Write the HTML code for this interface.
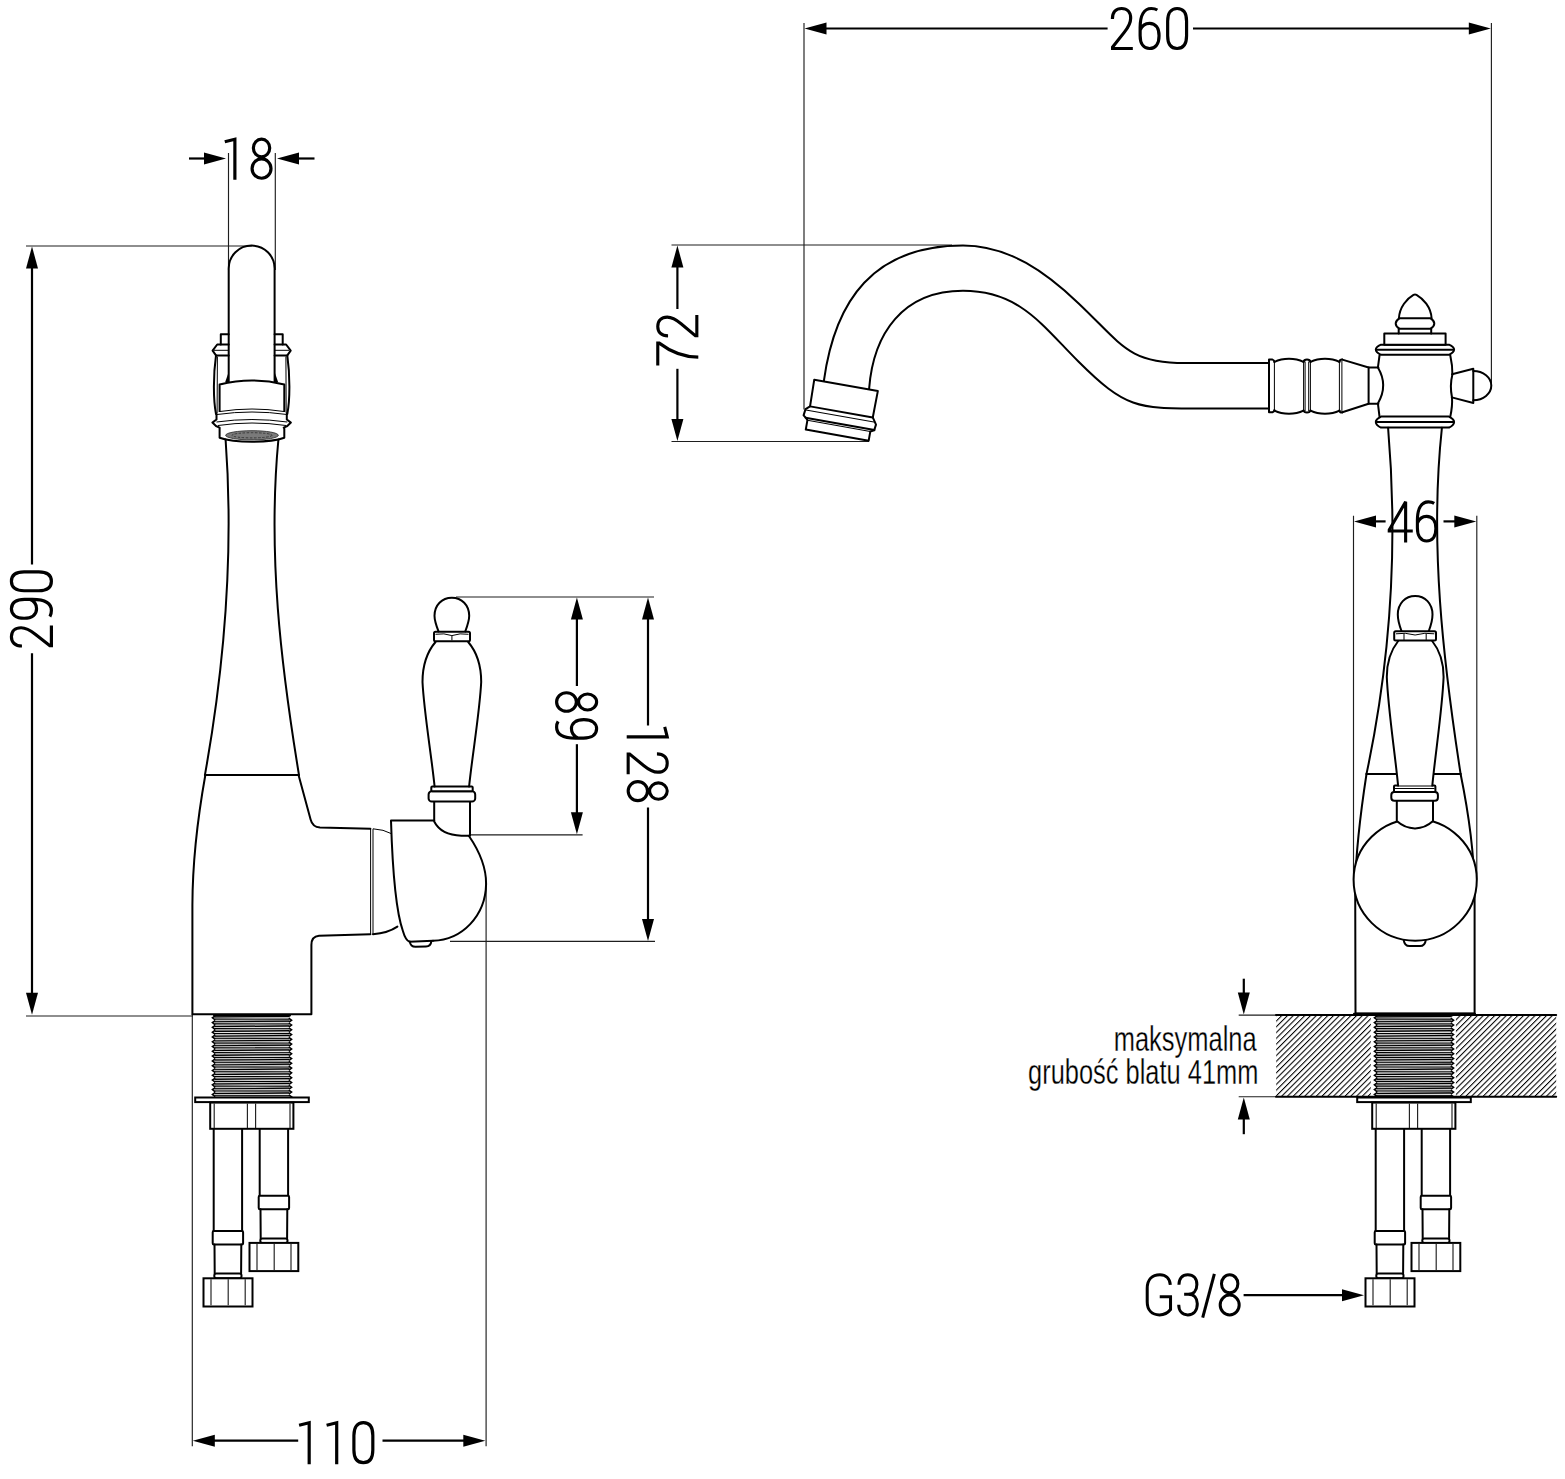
<!DOCTYPE html>
<html><head><meta charset="utf-8"><style>
html,body{margin:0;padding:0;background:#fff;}
svg{display:block;}
.o{fill:none;stroke:#000;stroke-width:2;stroke-linejoin:round;stroke-linecap:round;}
.of{fill:#fff;stroke:#000;stroke-width:2;stroke-linejoin:round;}
.th{fill:none;stroke:#000;stroke-width:1;}
.g{fill:none;stroke:#1e1e1e;stroke-width:1.15;}
.lab{font-family:"Liberation Sans",sans-serif;font-size:100px;fill:#000;stroke:#fff;stroke-width:0.8;}
.gk{fill:none;stroke:#1e1e1e;stroke-width:1.15;}
.d{fill:none;stroke:#000;stroke-width:2.2;}
.ah{fill:#000;stroke:none;}
.t{font-family:"Liberation Sans",sans-serif;fill:#000;stroke:#fff;}
.h{fill:none;stroke:#000;stroke-width:1.3;}
.dg path{fill:none;stroke:#000;stroke-linecap:butt;stroke-linejoin:miter;stroke-miterlimit:3;}
</style></head><body>
<svg width="1565" height="1479" viewBox="0 0 1565 1479">
<rect width="1565" height="1479" fill="#fff"/>

<line class="d" x1="189" y1="158.5" x2="205" y2="158.5"/>
<path class="ah" d="M226,158.5 L204,164.5 L204,152.5 Z"/>
<line class="d" x1="298" y1="158.5" x2="314.5" y2="158.5"/>
<path class="ah" d="M277,158.5 L299,152.5 L299,164.5 Z"/>
<line class="gk" x1="228.5" y1="153" x2="228.5" y2="270"/>
<line class="gk" x1="275.3" y1="153" x2="275.3" y2="270"/>
<g class="dg" stroke-width="7.4" transform="matrix(0.43 0 0 0.42 220.26 137.7)"><path transform="translate(0,0)" d="M34,100 L34,3.5 L10.5,9.5"/><path transform="translate(64,0)" d="M51,24.5 A19,21 0 1 1 13,24.5 A19,21 0 1 1 51,24.5 Z M54,73.5 A22,23 0 1 1 10,73.5 A22,23 0 1 1 54,73.5 Z"/></g>
<line class="g" x1="26" y1="246" x2="252" y2="246"/>
<line class="g" x1="26" y1="1016" x2="193" y2="1016"/>
<line class="d" x1="32" y1="266" x2="32" y2="564.6"/>
<line class="d" x1="32" y1="653.2" x2="32" y2="995"/>
<path class="ah" d="M32,246.5 L38,268.5 L26,268.5 Z"/>
<path class="ah" d="M32,1014.8 L26,992.8 L38,992.8 Z"/>
<g class="dg" stroke-width="7.4" transform="matrix(0 -0.43 0.43 0 9.9 650.08)"><path transform="translate(0,0)" d="M9.5,28 C9.5,12 18,3.5 31,3.5 C44,3.5 52,12 52,26 C52,39 45,49 37,59 L10,93 L10,96.5 L57,96.5"/><path transform="translate(64,0)" d="M 14,93 C 18,95.5 23,96.5 28,96.5 C 45,96.5 54,80 54,52 L 54,34 C 54,14 45.5,3.5 32,3.5 C 18.5,3.5 10,14 10,33 C 10,52 18.5,62 32,62 C 42.5,62 50.5,55 54,46"/><path transform="translate(128,0)" d="M10,33 C10,13.5 18,3.5 32,3.5 C46,3.5 54,13.5 54,33 L54,67 C54,86.5 46,96.5 32,96.5 C18,96.5 10,86.5 10,67 Z"/></g>
<line class="g" x1="456" y1="597" x2="654" y2="597"/>
<line class="g" x1="470" y1="834.8" x2="582.6" y2="834.8"/>
<line class="g" x1="450" y1="941.3" x2="655" y2="941.3"/>
<line class="d" x1="576.9" y1="615" x2="576.9" y2="686"/>
<line class="d" x1="576.9" y1="744.2" x2="576.9" y2="815"/>
<path class="ah" d="M576.9,597.5 L582.9,619.5 L570.9,619.5 Z"/>
<path class="ah" d="M576.9,834.3 L570.9,812.3 L582.9,812.3 Z"/>
<g class="dg" stroke-width="7.4" transform="matrix(0 0.42 -0.43 0 598.1 688.55)"><path transform="translate(0,0)" d="M51,24.5 A19,21 0 1 1 13,24.5 A19,21 0 1 1 51,24.5 Z M54,73.5 A22,23 0 1 1 10,73.5 A22,23 0 1 1 54,73.5 Z"/><path transform="translate(64,0)" d="M 14,93 C 18,95.5 23,96.5 28,96.5 C 45,96.5 54,80 54,52 L 54,34 C 54,14 45.5,3.5 32,3.5 C 18.5,3.5 10,14 10,33 C 10,52 18.5,62 32,62 C 42.5,62 50.5,55 54,46"/></g>
<line class="d" x1="648" y1="615" x2="648" y2="725.5"/>
<line class="d" x1="648" y1="807.5" x2="648" y2="922"/>
<path class="ah" d="M648,597.5 L654,619.5 L642,619.5 Z"/>
<path class="ah" d="M648,941 L642,919 L654,919 Z"/>
<g class="dg" stroke-width="7.4" transform="matrix(0 0.43 -0.42 0 668.7 722.3)"><path transform="translate(0,0)" d="M34,100 L34,3.5 L10.5,9.5"/><path transform="translate(64,0)" d="M9.5,28 C9.5,12 18,3.5 31,3.5 C44,3.5 52,12 52,26 C52,39 45,49 37,59 L10,93 L10,96.5 L57,96.5"/><path transform="translate(128,0)" d="M51,24.5 A19,21 0 1 1 13,24.5 A19,21 0 1 1 51,24.5 Z M54,73.5 A22,23 0 1 1 10,73.5 A22,23 0 1 1 54,73.5 Z"/></g>
<line class="g" x1="486.1" y1="883" x2="486.1" y2="1446.2"/>
<line class="g" x1="192.3" y1="1014" x2="192.3" y2="1446.2"/>
<line class="d" x1="210" y1="1440.7" x2="298.2" y2="1440.7"/>
<line class="d" x1="382.5" y1="1440.7" x2="468" y2="1440.7"/>
<path class="ah" d="M192.8,1440.7 L214.8,1434.7 L214.8,1446.7 Z"/>
<path class="ah" d="M485.3,1440.7 L463.3,1446.7 L463.3,1434.7 Z"/>
<g class="dg" stroke-width="7.4" transform="matrix(0.43 0 0 0.43 294.56 1421.2)"><path transform="translate(0,0)" d="M34,100 L34,3.5 L10.5,9.5"/><path transform="translate(64,0)" d="M34,100 L34,3.5 L10.5,9.5"/><path transform="translate(128,0)" d="M10,33 C10,13.5 18,3.5 32,3.5 C46,3.5 54,13.5 54,33 L54,67 C54,86.5 46,96.5 32,96.5 C18,96.5 10,86.5 10,67 Z"/></g>
<line class="g" x1="804" y1="23" x2="804" y2="409.5"/>
<line class="g" x1="1491.4" y1="23" x2="1491.4" y2="385.5"/>
<line class="d" x1="822" y1="28.5" x2="1107.6" y2="28.5"/>
<line class="d" x1="1193" y1="28.5" x2="1472" y2="28.5"/>
<path class="ah" d="M804.5,28.5 L826.5,22.5 L826.5,34.5 Z"/>
<path class="ah" d="M1490.8,28.5 L1468.8,34.5 L1468.8,22.5 Z"/>
<g class="dg" stroke-width="7.4" transform="matrix(0.43 0 0 0.43 1108.31 7)"><path transform="translate(0,0)" d="M9.5,28 C9.5,12 18,3.5 31,3.5 C44,3.5 52,12 52,26 C52,39 45,49 37,59 L10,93 L10,96.5 L57,96.5"/><path transform="translate(64,0)" d="M50,7 C46,4.5 41,3.5 36,3.5 C19,3.5 10,20 10,48 L10,66 C10,86 18.5,96.5 32,96.5 C45.5,96.5 54,86 54,67 C54,48 45.5,38 32,38 C21.5,38 13.5,45 10,54"/><path transform="translate(128,0)" d="M10,33 C10,13.5 18,3.5 32,3.5 C46,3.5 54,13.5 54,33 L54,67 C54,86.5 46,96.5 32,96.5 C18,96.5 10,86.5 10,67 Z"/></g>
<line class="g" x1="671.5" y1="245" x2="952" y2="245"/>
<line class="g" x1="671.5" y1="441.5" x2="869" y2="441.5"/>
<line class="d" x1="677.4" y1="262" x2="677.4" y2="309"/>
<line class="d" x1="677.4" y1="368.8" x2="677.4" y2="424"/>
<path class="ah" d="M677.4,245.5 L683.4,267.5 L671.4,267.5 Z"/>
<path class="ah" d="M677.4,441 L671.4,419 L683.4,419 Z"/>
<g class="dg" stroke-width="7.4" transform="matrix(0 -0.44 0.42 0 656.3 368.24)"><path transform="translate(0,0)" d="M6,3.5 L57,3.5 L57,7 C41,29 25.5,62 25,100"/><path transform="translate(64,0)" d="M9.5,28 C9.5,12 18,3.5 31,3.5 C44,3.5 52,12 52,26 C52,39 45,49 37,59 L10,93 L10,96.5 L57,96.5"/></g>
<line class="gk" x1="1353.5" y1="515.7" x2="1353.5" y2="879.5"/>
<line class="gk" x1="1476.8" y1="515.7" x2="1476.8" y2="879.5"/>
<line class="d" x1="1372" y1="521.4" x2="1385.6" y2="521.4"/>
<line class="d" x1="1443.5" y1="521.4" x2="1458" y2="521.4"/>
<path class="ah" d="M1354,521.4 L1376,515.4 L1376,527.4 Z"/>
<path class="ah" d="M1476.3,521.4 L1454.3,527.4 L1454.3,515.4 Z"/>
<line class="d" x1="1243.8" y1="978.7" x2="1243.8" y2="995"/>
<path class="ah" d="M1243.8,1014.6 L1237.8,992.6 L1249.8,992.6 Z"/>
<line class="d" x1="1243.8" y1="1115" x2="1243.8" y2="1134.2"/>
<path class="ah" d="M1243.8,1097.4 L1249.8,1119.4 L1237.8,1119.4 Z"/>
<line class="gk" x1="1238.7" y1="1015.1" x2="1276" y2="1015.1"/>
<line class="gk" x1="1238.7" y1="1096.7" x2="1276" y2="1096.7"/>
<line class="d" x1="1243.6" y1="1295.2" x2="1345" y2="1295.2"/>
<path class="ah" d="M1364,1295.2 L1342,1301.2 L1342,1289.2 Z"/>
<g class="dg" stroke-width="7" transform="matrix(0.4318 0 0 0.432 1145.7 1273.2)"><path d="M57,27 C56,12 46,3.5 33,3.5 C15,3.5 3.5,15 3.5,35 L3.5,66 C3.5,86 15,96.5 32,96.5 C44,96.5 52,91 57.5,84 L57.5,54.5 L32.5,54.5"/><path transform="translate(72.5,0)" d="M4.5,27 C4.5,12.5 12,3.5 25,3.5 C38,3.5 46,12.5 46,26 C46,40 38,48.8 26,48.8 L16.5,48.8 M26,48.8 C40,48.8 47,58 47,71 C47,87 38,96.5 25,96.5 C12,96.5 4,87 4,73"/><path d="M159,1.5 L132,103"/><path transform="translate(162.5,0)" d="M51,24.5 A19,21 0 1 1 13,24.5 A19,21 0 1 1 51,24.5 Z M54,73.5 A22,23 0 1 1 10,73.5 A22,23 0 1 1 54,73.5 Z"/></g>
<g class="dg" stroke-width="7.4" transform="matrix(0.42 0 0 0.42 1386.31 500.4)"><path transform="translate(0,0)" d="M46,100 L46,3.5 L7,70 L7,73 L63,73"/><path transform="translate(64,0)" d="M50,7 C46,4.5 41,3.5 36,3.5 C19,3.5 10,20 10,48 L10,66 C10,86 18.5,96.5 32,96.5 C45.5,96.5 54,86 54,67 C54,48 45.5,38 32,38 C21.5,38 13.5,45 10,54"/></g>
<path class="o" d="M228.7,383 L228.7,268.5 A22.95,22.95 0 0 1 274.6,268.5 L274.6,383"/>
<path class="o" d="M228.7,334.2 L220.8,334.2 L220.8,344.5"/>
<path class="o" d="M274.6,334.2 L282.7,334.2 L282.7,344.5"/>
<path class="o" d="M228.7,344.5 L217.2,344.5 L212.6,350.6 L216,355.4 L228.7,355.4"/>
<line class="th" x1="214" y1="350.3" x2="228.7" y2="350.3"/>
<path class="o" d="M274.6,344.5 L286.1,344.5 L290.7,350.6 L287.3,355.4 L274.6,355.4"/>
<line class="th" x1="274.6" y1="350.3" x2="289.3" y2="350.3"/>
<path class="o" d="M216,355.5 C213.2,375 213.2,400 216,414"/>
<path class="o" d="M287.3,355.5 C290.1,375 290.1,400 287.3,414"/>
<path class="th" d="M217.4,356.5 L217.1,413"/>
<path class="th" d="M285.9,356.5 L286.2,413"/>
<path class="ah" d="M225.2,382 L228.7,372 L228.7,382 Z"/>
<path class="ah" d="M278.1,382 L274.6,372 L274.6,382 Z"/>
<path class="of" d="M219.6,412 L219.6,384.5 Q252,376.5 284.3,384.5 L284.3,412"/>
<path class="th" d="M220,411.5 Q252,406.5 284,411.5"/>
<path class="th" d="M217,414.5 Q252,409.5 287,414.5"/>
<path class="o" d="M216.5,413.5 L216.5,419.5 L212.4,422.6 L216,426 L219.6,427.6"/>
<path class="o" d="M286.8,413.5 L286.8,419.5 L290.9,422.6 L287.3,426 L283.7,427.6"/>
<path class="th" d="M216.5,422 Q252,417 287.3,422"/>
<path class="th" d="M218,425.5 Q252,420.5 286,425.5"/>
<path class="o" d="M219.6,428.5 L219.6,437.8 C230,441.5 240,441.8 252,441.8 C264,441.8 274,441.5 284.3,437.8 L284.3,428.5"/>
<ellipse cx="252" cy="435.3" rx="26.3" ry="4.6" fill="#7a7a7a" stroke="#333" stroke-width="0.9"/>
<ellipse cx="252" cy="435.3" rx="20" ry="2.6" fill="none" stroke="#333" stroke-width="0.9" stroke-dasharray="2.5 1.5"/>
<path class="o" d="M225.6,439.5 C234,553.7 224.7,664.7 204.9,775.1"/>
<path class="o" d="M278.4,439.5 C267.6,554 280.8,664 299,775.1"/>
<line class="o" x1="205.3" y1="775.1" x2="298.6" y2="775.1"/>
<path class="o" d="M205.3,775.2 C197.3,820 192.5,865 192.4,905 L192.4,1014.2 L311.4,1014.2 L311.4,945 Q311.4,936.5 319,935.8 L370.4,934.2"/>
<path class="o" d="M298.6,775.2 L310.6,819.5 Q312.5,827 320,827.6 L370.4,828.8"/>
<line class="th" x1="370.6" y1="828.8" x2="370.6" y2="934.2"/>
<line class="th" x1="373" y1="828.8" x2="373" y2="934.2"/>
<path class="th" d="M373,828.8 Q384,829.5 391,833.5"/>
<path class="o" d="M373,934.2 Q388,933 397.4,926.6"/>
<path class="o" d="M434.2,820.6 L391,820.6 C392.5,870 395.5,910 402.9,931 Q405.5,940 409.3,941.7 L433,940.7"/>
<path class="o" d="M468.8,835.7 C480,852 486.3,868 486.1,884 C485.5,916 462,940 433,940.7"/>
<path class="o" d="M409.8,941.6 C410.3,945.5 412.5,946.8 415.5,946.8 L426,946.6 C429,946.5 431,945 431.4,940.9"/>
<path class="o" d="M434.2,802 L434.2,821.5 Q441,835 461.5,835.7 L468.8,835.7 L470,835.7 L470,802"/>
<rect class="of" x="428.6" y="791.3" width="46.6" height="10.3" rx="3.2"/>
<rect class="of" x="431.3" y="786.4" width="41.4" height="4.9" rx="1"/>
<path class="o" d="M435.5,642 C427,652 422.5,665 422.5,682 C424,712 431,752 434.6,786.5"/>
<path class="o" d="M468.2,642 C476.7,652 481.2,665 481.2,682 C479.7,712 472.7,752 469.1,786.5"/>
<rect class="of" x="434" y="631.8" width="36" height="9.4" rx="1.5"/>
<path class="th" d="M435.5,634.3 Q444,632.8 451.9,635.6 Q460,632.8 468.5,634.3"/>
<line class="g" x1="451.9" y1="635.6" x2="451.9" y2="640.5"/>
<path class="o" d="M438.5,631.4 C436,625 434.5,620.5 434.5,615.8 C434.5,605 442,597.7 451.85,597.7 C461.7,597.7 469.2,605 469.2,615.8 C469.2,620.5 467.7,625 465.3,631.4"/>
<g id="bot">
<rect x="214.5" y="1015.5" width="75" height="81" fill="#8a8a8a"/><path d="M214.5,1017.1 L289.5,1016.3" stroke="#000" stroke-width="1.25" fill="none"/><path d="M214.5,1018.2 L289.5,1017.9" stroke="#f2f2f2" stroke-width="0.9" fill="none"/><path d="M214.5,1019.1 L289.5,1019.3" stroke="#000" stroke-width="1.15" fill="none"/><path d="M214.5,1020.3 L289.5,1020.2" stroke="#d8d8d8" stroke-width="0.8" fill="none"/><path d="M215.2,1015.8 L212.4,1017.8 L215.2,1020" stroke="#000" stroke-width="1.5" fill="none"/><path d="M288.8,1018.2 L291.6,1020.2 L288.8,1022.4" stroke="#000" stroke-width="1.5" fill="none"/><path d="M214.5,1021.89 L289.5,1021.09" stroke="#000" stroke-width="1.25" fill="none"/><path d="M214.5,1022.99 L289.5,1022.69" stroke="#f2f2f2" stroke-width="0.9" fill="none"/><path d="M214.5,1023.89 L289.5,1024.09" stroke="#000" stroke-width="1.15" fill="none"/><path d="M214.5,1025.09 L289.5,1024.99" stroke="#d8d8d8" stroke-width="0.8" fill="none"/><path d="M215.2,1020.59 L212.4,1022.59 L215.2,1024.79" stroke="#000" stroke-width="1.5" fill="none"/><path d="M288.8,1022.99 L291.6,1024.99 L288.8,1027.19" stroke="#000" stroke-width="1.5" fill="none"/><path d="M214.5,1026.68 L289.5,1025.88" stroke="#000" stroke-width="1.25" fill="none"/><path d="M214.5,1027.78 L289.5,1027.48" stroke="#f2f2f2" stroke-width="0.9" fill="none"/><path d="M214.5,1028.68 L289.5,1028.88" stroke="#000" stroke-width="1.15" fill="none"/><path d="M214.5,1029.88 L289.5,1029.78" stroke="#d8d8d8" stroke-width="0.8" fill="none"/><path d="M215.2,1025.38 L212.4,1027.38 L215.2,1029.58" stroke="#000" stroke-width="1.5" fill="none"/><path d="M288.8,1027.78 L291.6,1029.78 L288.8,1031.98" stroke="#000" stroke-width="1.5" fill="none"/><path d="M214.5,1031.47 L289.5,1030.67" stroke="#000" stroke-width="1.25" fill="none"/><path d="M214.5,1032.57 L289.5,1032.27" stroke="#f2f2f2" stroke-width="0.9" fill="none"/><path d="M214.5,1033.47 L289.5,1033.67" stroke="#000" stroke-width="1.15" fill="none"/><path d="M214.5,1034.67 L289.5,1034.57" stroke="#d8d8d8" stroke-width="0.8" fill="none"/><path d="M215.2,1030.17 L212.4,1032.17 L215.2,1034.37" stroke="#000" stroke-width="1.5" fill="none"/><path d="M288.8,1032.57 L291.6,1034.57 L288.8,1036.77" stroke="#000" stroke-width="1.5" fill="none"/><path d="M214.5,1036.26 L289.5,1035.46" stroke="#000" stroke-width="1.25" fill="none"/><path d="M214.5,1037.36 L289.5,1037.06" stroke="#f2f2f2" stroke-width="0.9" fill="none"/><path d="M214.5,1038.26 L289.5,1038.46" stroke="#000" stroke-width="1.15" fill="none"/><path d="M214.5,1039.46 L289.5,1039.36" stroke="#d8d8d8" stroke-width="0.8" fill="none"/><path d="M215.2,1034.96 L212.4,1036.96 L215.2,1039.16" stroke="#000" stroke-width="1.5" fill="none"/><path d="M288.8,1037.36 L291.6,1039.36 L288.8,1041.56" stroke="#000" stroke-width="1.5" fill="none"/><path d="M214.5,1041.05 L289.5,1040.25" stroke="#000" stroke-width="1.25" fill="none"/><path d="M214.5,1042.15 L289.5,1041.85" stroke="#f2f2f2" stroke-width="0.9" fill="none"/><path d="M214.5,1043.05 L289.5,1043.25" stroke="#000" stroke-width="1.15" fill="none"/><path d="M214.5,1044.25 L289.5,1044.15" stroke="#d8d8d8" stroke-width="0.8" fill="none"/><path d="M215.2,1039.75 L212.4,1041.75 L215.2,1043.95" stroke="#000" stroke-width="1.5" fill="none"/><path d="M288.8,1042.15 L291.6,1044.15 L288.8,1046.35" stroke="#000" stroke-width="1.5" fill="none"/><path d="M214.5,1045.84 L289.5,1045.04" stroke="#000" stroke-width="1.25" fill="none"/><path d="M214.5,1046.94 L289.5,1046.64" stroke="#f2f2f2" stroke-width="0.9" fill="none"/><path d="M214.5,1047.84 L289.5,1048.04" stroke="#000" stroke-width="1.15" fill="none"/><path d="M214.5,1049.04 L289.5,1048.94" stroke="#d8d8d8" stroke-width="0.8" fill="none"/><path d="M215.2,1044.54 L212.4,1046.54 L215.2,1048.74" stroke="#000" stroke-width="1.5" fill="none"/><path d="M288.8,1046.94 L291.6,1048.94 L288.8,1051.14" stroke="#000" stroke-width="1.5" fill="none"/><path d="M214.5,1050.63 L289.5,1049.83" stroke="#000" stroke-width="1.25" fill="none"/><path d="M214.5,1051.73 L289.5,1051.43" stroke="#f2f2f2" stroke-width="0.9" fill="none"/><path d="M214.5,1052.63 L289.5,1052.83" stroke="#000" stroke-width="1.15" fill="none"/><path d="M214.5,1053.83 L289.5,1053.73" stroke="#d8d8d8" stroke-width="0.8" fill="none"/><path d="M215.2,1049.33 L212.4,1051.33 L215.2,1053.53" stroke="#000" stroke-width="1.5" fill="none"/><path d="M288.8,1051.73 L291.6,1053.73 L288.8,1055.93" stroke="#000" stroke-width="1.5" fill="none"/><path d="M214.5,1055.42 L289.5,1054.62" stroke="#000" stroke-width="1.25" fill="none"/><path d="M214.5,1056.52 L289.5,1056.22" stroke="#f2f2f2" stroke-width="0.9" fill="none"/><path d="M214.5,1057.42 L289.5,1057.62" stroke="#000" stroke-width="1.15" fill="none"/><path d="M214.5,1058.62 L289.5,1058.52" stroke="#d8d8d8" stroke-width="0.8" fill="none"/><path d="M215.2,1054.12 L212.4,1056.12 L215.2,1058.32" stroke="#000" stroke-width="1.5" fill="none"/><path d="M288.8,1056.52 L291.6,1058.52 L288.8,1060.72" stroke="#000" stroke-width="1.5" fill="none"/><path d="M214.5,1060.21 L289.5,1059.41" stroke="#000" stroke-width="1.25" fill="none"/><path d="M214.5,1061.31 L289.5,1061.01" stroke="#f2f2f2" stroke-width="0.9" fill="none"/><path d="M214.5,1062.21 L289.5,1062.41" stroke="#000" stroke-width="1.15" fill="none"/><path d="M214.5,1063.41 L289.5,1063.31" stroke="#d8d8d8" stroke-width="0.8" fill="none"/><path d="M215.2,1058.91 L212.4,1060.91 L215.2,1063.11" stroke="#000" stroke-width="1.5" fill="none"/><path d="M288.8,1061.31 L291.6,1063.31 L288.8,1065.51" stroke="#000" stroke-width="1.5" fill="none"/><path d="M214.5,1065 L289.5,1064.2" stroke="#000" stroke-width="1.25" fill="none"/><path d="M214.5,1066.1 L289.5,1065.8" stroke="#f2f2f2" stroke-width="0.9" fill="none"/><path d="M214.5,1067 L289.5,1067.2" stroke="#000" stroke-width="1.15" fill="none"/><path d="M214.5,1068.2 L289.5,1068.1" stroke="#d8d8d8" stroke-width="0.8" fill="none"/><path d="M215.2,1063.7 L212.4,1065.7 L215.2,1067.9" stroke="#000" stroke-width="1.5" fill="none"/><path d="M288.8,1066.1 L291.6,1068.1 L288.8,1070.3" stroke="#000" stroke-width="1.5" fill="none"/><path d="M214.5,1069.79 L289.5,1068.99" stroke="#000" stroke-width="1.25" fill="none"/><path d="M214.5,1070.89 L289.5,1070.59" stroke="#f2f2f2" stroke-width="0.9" fill="none"/><path d="M214.5,1071.79 L289.5,1071.99" stroke="#000" stroke-width="1.15" fill="none"/><path d="M214.5,1072.99 L289.5,1072.89" stroke="#d8d8d8" stroke-width="0.8" fill="none"/><path d="M215.2,1068.49 L212.4,1070.49 L215.2,1072.69" stroke="#000" stroke-width="1.5" fill="none"/><path d="M288.8,1070.89 L291.6,1072.89 L288.8,1075.09" stroke="#000" stroke-width="1.5" fill="none"/><path d="M214.5,1074.58 L289.5,1073.78" stroke="#000" stroke-width="1.25" fill="none"/><path d="M214.5,1075.68 L289.5,1075.38" stroke="#f2f2f2" stroke-width="0.9" fill="none"/><path d="M214.5,1076.58 L289.5,1076.78" stroke="#000" stroke-width="1.15" fill="none"/><path d="M214.5,1077.78 L289.5,1077.68" stroke="#d8d8d8" stroke-width="0.8" fill="none"/><path d="M215.2,1073.28 L212.4,1075.28 L215.2,1077.48" stroke="#000" stroke-width="1.5" fill="none"/><path d="M288.8,1075.68 L291.6,1077.68 L288.8,1079.88" stroke="#000" stroke-width="1.5" fill="none"/><path d="M214.5,1079.37 L289.5,1078.57" stroke="#000" stroke-width="1.25" fill="none"/><path d="M214.5,1080.47 L289.5,1080.17" stroke="#f2f2f2" stroke-width="0.9" fill="none"/><path d="M214.5,1081.37 L289.5,1081.57" stroke="#000" stroke-width="1.15" fill="none"/><path d="M214.5,1082.57 L289.5,1082.47" stroke="#d8d8d8" stroke-width="0.8" fill="none"/><path d="M215.2,1078.07 L212.4,1080.07 L215.2,1082.27" stroke="#000" stroke-width="1.5" fill="none"/><path d="M288.8,1080.47 L291.6,1082.47 L288.8,1084.67" stroke="#000" stroke-width="1.5" fill="none"/><path d="M214.5,1084.16 L289.5,1083.36" stroke="#000" stroke-width="1.25" fill="none"/><path d="M214.5,1085.26 L289.5,1084.96" stroke="#f2f2f2" stroke-width="0.9" fill="none"/><path d="M214.5,1086.16 L289.5,1086.36" stroke="#000" stroke-width="1.15" fill="none"/><path d="M214.5,1087.36 L289.5,1087.26" stroke="#d8d8d8" stroke-width="0.8" fill="none"/><path d="M215.2,1082.86 L212.4,1084.86 L215.2,1087.06" stroke="#000" stroke-width="1.5" fill="none"/><path d="M288.8,1085.26 L291.6,1087.26 L288.8,1089.46" stroke="#000" stroke-width="1.5" fill="none"/><path d="M214.5,1088.95 L289.5,1088.15" stroke="#000" stroke-width="1.25" fill="none"/><path d="M214.5,1090.05 L289.5,1089.75" stroke="#f2f2f2" stroke-width="0.9" fill="none"/><path d="M214.5,1090.95 L289.5,1091.15" stroke="#000" stroke-width="1.15" fill="none"/><path d="M214.5,1092.15 L289.5,1092.05" stroke="#d8d8d8" stroke-width="0.8" fill="none"/><path d="M215.2,1087.65 L212.4,1089.65 L215.2,1091.85" stroke="#000" stroke-width="1.5" fill="none"/><path d="M288.8,1090.05 L291.6,1092.05 L288.8,1094.25" stroke="#000" stroke-width="1.5" fill="none"/><path d="M214.5,1093.74 L289.5,1092.94" stroke="#000" stroke-width="1.25" fill="none"/><path d="M214.5,1094.84 L289.5,1094.54" stroke="#f2f2f2" stroke-width="0.9" fill="none"/><path d="M214.5,1095.74 L289.5,1095.94" stroke="#000" stroke-width="1.15" fill="none"/><path d="M214.5,1096.94 L289.5,1096.84" stroke="#d8d8d8" stroke-width="0.8" fill="none"/><path d="M215.2,1092.44 L212.4,1094.44 L215.2,1096.64" stroke="#000" stroke-width="1.5" fill="none"/><path d="M288.8,1094.84 L291.6,1096.84 L288.8,1099.04" stroke="#000" stroke-width="1.5" fill="none"/>
<line class="o" x1="214" y1="1015.5" x2="290" y2="1015.5"/>
<rect x="195.2" y="1097.5" width="113.6" height="4.6" fill="#fff" stroke="#000" stroke-width="2"/>
<rect x="210.2" y="1102.6" width="83.2" height="26.2" fill="#fff" stroke="#000" stroke-width="2"/>
<line class="g" x1="214.2" y1="1103.5" x2="214.2" y2="1128"/>
<line class="g" x1="247.4" y1="1103.5" x2="247.4" y2="1128"/>
<line class="g" x1="255.6" y1="1103.5" x2="255.6" y2="1128"/>
<line class="g" x1="290" y1="1103.5" x2="290" y2="1128"/>
<line class="o" x1="213.7" y1="1129" x2="213.7" y2="1231"/>
<line class="o" x1="242.1" y1="1129" x2="242.1" y2="1231"/>
<rect class="of" x="212.7" y="1231" width="30.4" height="13.5" rx="1.2"/>
<path class="o" d="M214.5,1244.5 L214.7,1273.6 M241.3,1244.5 L241.1,1273.6"/>
<rect class="of" x="214.3" y="1273.6" width="27.2" height="4.7" rx="2"/>
<rect x="203.5" y="1278.3" width="49" height="28.2" fill="#fff" stroke="#000" stroke-width="2"/>
<line class="g" x1="211" y1="1279.3" x2="211" y2="1305.3"/>
<line class="g" x1="228.2" y1="1279.3" x2="228.2" y2="1305.3"/>
<line class="g" x1="245.2" y1="1279.3" x2="245.2" y2="1305.3"/>
<line class="o" x1="259.7" y1="1129" x2="259.7" y2="1195.8"/>
<line class="o" x1="288.1" y1="1129" x2="288.1" y2="1195.8"/>
<rect class="of" x="258.7" y="1195.8" width="30.4" height="13.5" rx="1.2"/>
<path class="o" d="M260.5,1209.3 L260.7,1238.4 M287.3,1209.3 L287.1,1238.4"/>
<rect class="of" x="260.3" y="1238.4" width="27.2" height="4.5" rx="2"/>
<rect x="249.5" y="1242.9" width="48.8" height="28.2" fill="#fff" stroke="#000" stroke-width="2"/>
<line class="g" x1="257" y1="1243.9" x2="257" y2="1269.9"/>
<line class="g" x1="274.2" y1="1243.9" x2="274.2" y2="1269.9"/>
<line class="g" x1="291" y1="1243.9" x2="291" y2="1269.9"/>
</g>
<use href="#bot" transform="translate(1162,0)"/>
<path class="o" d="M823.8,381.3 C835,299.6 874,245.5 963,245.5 C1009.4,245.5 1046.4,272.9 1078.4,303.2 C1122.8,345.3 1128.1,363 1185,363 L1269,363"/>
<path class="o" d="M869.1,388.9 C873.3,333.7 902.7,290.8 963,290.8 C1019.6,290.8 1041.8,325 1078.4,361.5 C1125.2,408.1 1136.8,408.6 1200,408.6 L1269,408.6"/>
<g transform="translate(814.25,379.7) rotate(10)">
<path class="of" d="M0,0 L64.6,0 L64.2,27 L0.5,27 Z"/>
<path class="o" d="M0.5,27 L-3.5,30.5 L-4.3,37 L-1,39.5 L0.3,41.2 L0.3,50.6 L64.2,50.6 L64.2,41.2 L67.8,39.5 L68.6,33.5 L64.2,27"/>
<line class="th" x1="-3" y1="31.2" x2="67.5" y2="31.2"/>
<line class="o" x1="-2" y1="39" x2="68" y2="39"/>
<line class="th" x1="0.3" y1="41.2" x2="64.2" y2="41.2"/>
</g>
<path class="o" d="M1269,363 L1269,359.6 L1272.5,359.6 Q1274.4,360.2 1274.4,362"/>
<path class="o" d="M1269,363 L1269,412.3 L1272.5,412.3 Q1274.4,411.7 1274.4,410"/>
<line class="th" x1="1274.4" y1="361" x2="1274.4" y2="411"/>
<path class="o" d="M1274.4,361.8 C1283,357.6 1295,357.6 1303.5,361.8"/>
<path class="o" d="M1274.4,410.6 C1283,414.8 1295,414.8 1303.5,410.6"/>
<path class="o" d="M1303.5,362 Q1304,359.6 1307,359.6 Q1310,359.6 1310.5,362"/>
<path class="o" d="M1303.5,410.4 Q1304,412.6 1307,412.6 Q1310,412.6 1310.5,410.4"/>
<line class="th" x1="1303.6" y1="361.5" x2="1303.6" y2="411"/>
<line class="th" x1="1305.1" y1="361.5" x2="1305.1" y2="411"/>
<line class="th" x1="1308.7" y1="361.5" x2="1308.7" y2="411"/>
<line class="th" x1="1310.4" y1="361.5" x2="1310.4" y2="411"/>
<path class="o" d="M1310.5,361.8 C1319,357.6 1331,357.6 1339.5,361.8"/>
<path class="o" d="M1310.5,410.6 C1319,414.8 1331,414.8 1339.5,410.6"/>
<path class="o" d="M1339.3,362 Q1339.8,359.6 1342,359.6 L1342.3,359.6"/>
<path class="o" d="M1339.3,410.4 Q1339.8,412.5 1342,412.5 L1342.3,412.5"/>
<line class="th" x1="1339.4" y1="361.5" x2="1339.4" y2="411"/>
<line class="th" x1="1341.9" y1="361" x2="1341.9" y2="411.5"/>
<path class="o" d="M1342.3,359.6 L1368.6,367.5 L1368.6,403.8 L1342.3,412.3"/>
<path class="o" d="M1368.6,367.5 L1378.4,367.5 M1368.6,403.8 L1378.4,403.8"/>
<path class="o" d="M1379.5,355.5 L1377.9,367.6 Q1388.5,385.5 1377.9,403.4 L1379.5,416.6"/>
<path class="o" d="M1450.3,355.5 Q1452.6,366 1452.4,374.5 Q1449.6,385.5 1452,397.5 Q1452.6,406 1450.3,416.6"/>
<path class="of" d="M1381,344.7 L1449,344.7 Q1454.1,347 1454.1,349.6 Q1454.1,352.5 1449,354.8 L1381,354.8 Q1375.8,352.5 1375.8,349.6 Q1375.8,347 1381,344.7 Z"/>
<line class="o" x1="1377" y1="349.8" x2="1453" y2="349.8"/>
<rect class="of" x="1384.3" y="333.5" width="61.3" height="11.2"/>
<path class="o" d="M1398.7,333.5 L1398.7,328.7 M1431.2,333.5 L1431.2,328.7"/>
<path class="of" d="M1399.5,318.3 L1430.5,318.3 Q1434.3,320.5 1434.3,323.5 Q1434.3,326.5 1430.5,328.7 L1399.5,328.7 Q1395.7,326.5 1395.7,323.5 Q1395.7,320.5 1399.5,318.3 Z"/>
<path class="o" d="M1398.9,318.3 C1399.5,307 1407,298.5 1413.5,294.8 Q1415,294 1416.5,294.8 C1423,298.5 1431,307 1431.6,318.3"/>
<path class="of" d="M1381,416.6 L1449,416.6 Q1454.1,419.3 1454.1,421.9 Q1454.1,425 1449,427.6 L1381,427.6 Q1375.8,425 1375.8,421.9 Q1375.8,419.3 1381,416.6 Z"/>
<line class="o" x1="1377" y1="421.9" x2="1453" y2="421.9"/>
<path class="o" d="M1452,374.2 L1473.3,368.7 L1473.3,403 L1451.8,397.4"/>
<path class="o" d="M1473.3,371 A18,14.6 0 0 1 1473.3,400.2"/>
<path class="o" d="M1388.1,427.8 C1398,543.5 1390.7,660.3 1366.5,773.9"/>
<path class="o" d="M1441.9,427.8 C1429.5,543.4 1443,659.6 1460.6,773.9"/>
<line class="o" x1="1366.5" y1="773.9" x2="1460.6" y2="773.9"/>
<path class="o" d="M1366.5,774 C1360.2,815 1356,850 1355.2,885 L1355.5,1013.6 L1474.6,1013.6 L1474.6,890 C1474,850 1469,815 1460.6,774"/>
<line class="o" x1="1354" y1="1013.8" x2="1475" y2="1013.8"/>
<ellipse class="of" cx="1415.2" cy="879.8" rx="61.6" ry="60.9"/>
<path class="o" d="M1403.8,940.3 C1404.3,944.5 1406.5,946 1409.5,946 L1420,946 C1423,946 1425.2,944.5 1425.7,940.3"/>
<path class="of" d="M1396.8,800.7 L1396.8,821.1 Q1405,828.5 1415,828.4 Q1425,828.5 1433,821.1 L1433,800.7"/>
<rect class="of" x="1391.3" y="792" width="46.6" height="8.7" rx="3"/>
<rect class="of" x="1394" y="785.4" width="41.4" height="6.6" rx="1"/>
<line class="th" x1="1395" y1="788.5" x2="1434.5" y2="788.5"/>
<path fill="#fff" stroke="none" d="M1398.2,641 C1391,650 1386.8,662 1386.8,677 C1388,708 1394.6,750 1398.1,785.6 L1432.3,785.6 C1435.8,750 1442.4,708 1443.6,677 C1443.6,662 1439.4,650 1432.2,641 Z"/>
<path class="o" d="M1398.2,641 C1391,650 1386.8,662 1386.8,677 C1388,708 1394.6,750 1398.1,785.6"/>
<path class="o" d="M1432.2,641 C1439.4,650 1443.6,662 1443.6,677 C1442.4,708 1435.8,750 1432.3,785.6"/>
<rect class="of" x="1394.2" y="631.2" width="41.8" height="9.4" rx="1.5"/>
<path class="th" d="M1396,633.8 Q1405,632.2 1415.1,635 Q1425,632.2 1434.3,633.8"/>
<line class="g" x1="1404" y1="634" x2="1404" y2="640"/>
<line class="g" x1="1426.2" y1="634" x2="1426.2" y2="640"/>
<path class="o" d="M1401.5,631 C1399,624.5 1397.8,620 1397.8,614.6 C1397.8,603.6 1405.3,596 1415.15,596 C1425,596 1432.5,603.6 1432.5,614.6 C1432.5,620 1431.3,624.5 1428.8,631"/>
<defs><pattern id="hp" patternUnits="userSpaceOnUse" width="4.07" height="10" patternTransform="rotate(45)"><rect x="0" y="0" width="1.05" height="10" fill="#000"/></pattern></defs>
<rect x="1276.2" y="1015.5" width="94.6" height="81" fill="url(#hp)"/>
<rect x="1455.9" y="1015.5" width="100.3" height="81" fill="url(#hp)"/>
<line class="o" x1="1276" y1="1015.1" x2="1556.2" y2="1015.1"/>
<line class="o" x1="1276" y1="1096.7" x2="1556.2" y2="1096.7"/>
<text transform="matrix(0.2549 0 0 0.352 1113.7 1050.7)" class="lab">maksymalna</text>
<text transform="matrix(0.2543 0 0 0.352 1028.1 1083.9)" class="lab">grubość blatu 41mm</text>
</svg></body></html>
